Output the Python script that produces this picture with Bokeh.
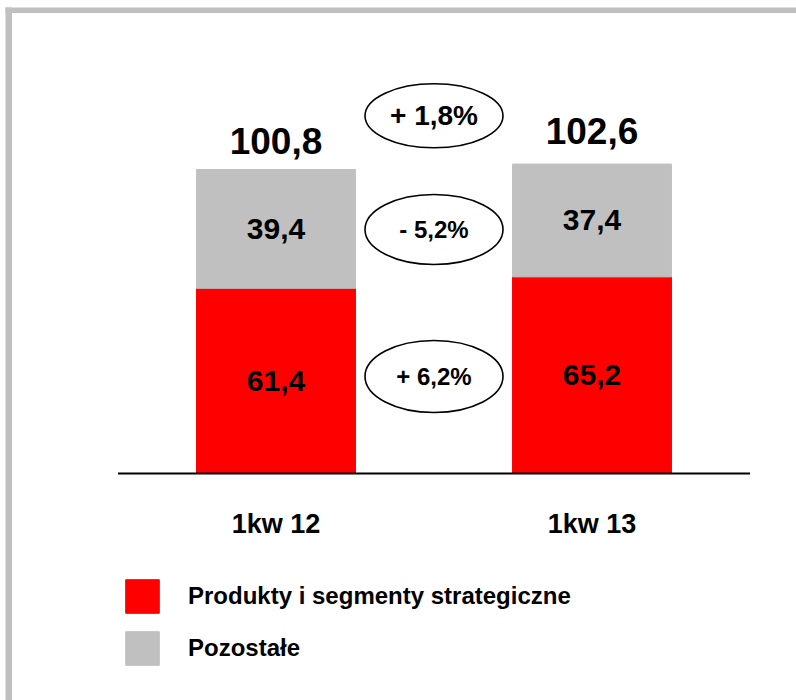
from bokeh.plotting import figure
from bokeh.models import ColumnDataSource, Range1d, BoxAnnotation, Legend, LegendItem
from bokeh.core.properties import value, field
from bokeh.embed import file_html
from bokeh.resources import INLINE

# ---- data ----
quarters = ["1kw 12", "1kw 13"]
strategic = [61.4, 65.2]
other = [39.4, 37.4]
totals = [100.8, 102.6]
series_names = ["Produkty i segmenty strategiczne", "Pozostałe"]
change_labels = ["+ 1,8%", "- 5,2%", "+ 6,2%"]

# ---- style / layout ----
RED = "#FF0000"
GRAY = "#C0C0C0"
FONT = "Liberation Sans"
W, H = 796, 700
PX_X = 316.0      # pixels per category step
PX_Y = 3.0159     # pixels per value unit
X0_PX = 275.5     # pixel x of first category
ZERO_PX = 473.0   # pixel y of the zero line (from top)


def fmt(v):
    return f"{v:.1f}".replace(".", ",")


def px_to_y(py):
    return (ZERO_PX - py) / PX_Y


def px_to_x(px):
    return (px - X0_PX) / PX_X


xs = list(range(len(quarters)))
total_gap_px = [28, 33]
src = ColumnDataSource(dict(
    x=xs,
    quarter=quarters,
    strategic=strategic,
    other=other,
    total=totals,
    total_y=[t + g / PX_Y for t, g in zip(totals, total_gap_px)],
    total_label=[fmt(v) for v in totals],
    s_label=[fmt(v) for v in strategic],
    o_label=[fmt(v) for v in other],
    s_mid=[s / 2 for s in strategic],
    o_mid=[s + o / 2 for s, o in zip(strategic, other)],
))

p = figure(
    width=W, height=H,
    output_backend="svg", toolbar_location=None,
    x_range=Range1d(px_to_x(0), px_to_x(W)),
    y_range=Range1d(px_to_y(H), px_to_y(0)),
    x_axis_location=None, y_axis_location=None,
    min_border=0,
)
p.grid.visible = False
p.outline_line_color = None
p.background_fill_color = "white"
p.border_fill_color = "white"

# gray frame (top and left edges)
p.add_layout(BoxAnnotation(left=px_to_x(5), top=px_to_y(7), bottom=px_to_y(12.5),
                           fill_color=GRAY, fill_alpha=1, line_alpha=0))
p.add_layout(BoxAnnotation(left=px_to_x(5), right=px_to_x(11.5), top=px_to_y(7),
                           fill_color=GRAY, fill_alpha=1, line_alpha=0))

bars = p.vbar_stack(["strategic", "other"], x="x", width=0.503, color=[RED, GRAY], source=src)

# baseline
p.segment(x0=min(xs) - 0.5, x1=max(xs) + 0.5, y0=0, y1=0, line_color="black", line_width=2)

common = dict(text_font=value(FONT), text_font_style="bold", text_align="center",
              text_color="black", text_baseline="middle")

# totals above bars
p.text(x="x", y="total_y", text="total_label", source=src, text_font_size="37px", **common)
# segment labels
p.text(x="x", y="s_mid", text="s_label", source=src, text_font_size="30px", **common)
p.text(x="x", y="o_mid", text="o_label", source=src, text_font_size="30px", **common)
# category labels
p.text(x="x", y=0, text="quarter", source=src, text_font_size="27px", y_offset=50, **common)

# change ellipses between the bars
mid_x = sum(xs) / len(xs)
ell_src = ColumnDataSource(dict(
    x=[mid_x] * 3,
    y=[max(totals) + 16,
       sum(src.data["o_mid"]) / 2 - 1.6,
       sum(src.data["s_mid"]) / 2 + 0.5],
    w=[138, 138, 138],
    h=[64, 70, 72],
    label=change_labels,
    size=["28px", "24px", "24px"],
))
p.ellipse(x="x", y="y", width="w", height="h", width_units="screen", height_units="screen",
          fill_color="white", line_color="black", line_width=1.6, source=ell_src)
p.text(x="x", y="y", text="label", source=ell_src, text_font_size=field("size"), **common)

legend = Legend(
    items=[LegendItem(label=series_names[0], renderers=[bars[0]]),
           LegendItem(label=series_names[1], renderers=[bars[1]])],
    location=(121, 31),
    glyph_width=42, glyph_height=42, spacing=10, padding=0, margin=0,
    label_standoff=25,
    label_text_font=FONT, label_text_font_style="bold", label_text_font_size="24px",
    label_text_color="black",
    border_line_color=None, background_fill_alpha=0,
)
p.add_layout(legend)

open("out.html", "w").write(file_html(p, INLINE))
